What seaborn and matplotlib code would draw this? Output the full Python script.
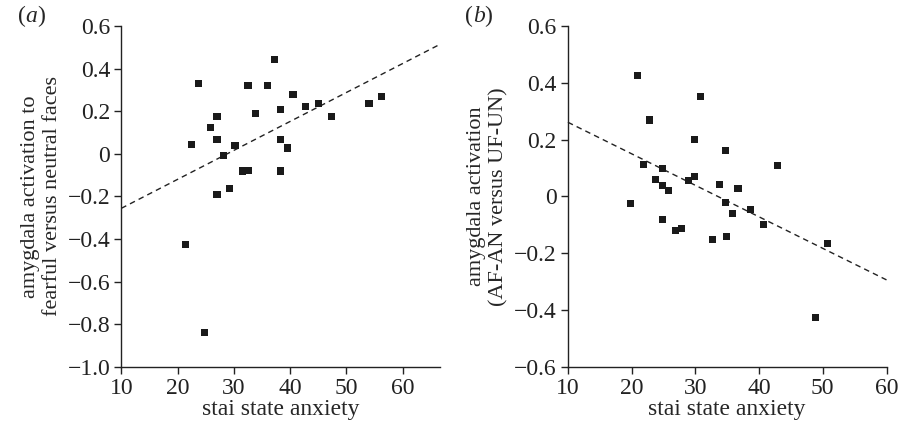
import numpy as np
import pandas as pd
import matplotlib
matplotlib.use("Agg")
import matplotlib.pyplot as plt
import seaborn as sns
from matplotlib.ticker import FuncFormatter

# panel (a): fearful vs neutral faces
anx_a = [23.7, 22.4, 27.0, 25.8, 27.0, 28.1, 30.2, 27.0, 29.2, 31.5, 32.5, 32.5, 33.8,
         35.9, 37.2, 38.2, 38.2, 39.5, 38.2, 40.5, 42.8, 45.0, 47.3, 54.0, 56.3, 21.4, 24.7]
amy_a = [0.331, 0.045, 0.177, 0.125, 0.069, -0.006, 0.041, -0.192, -0.161, -0.081, -0.077,
         0.322, 0.191, 0.322, 0.444, 0.209, 0.069, 0.027, -0.081, 0.280, 0.223, 0.238,
         0.177, 0.238, 0.270, -0.427, -0.839]
fit_a = (-0.392, 0.0136)   # intercept, slope of dashed line

# panel (b): AF-AN versus UF-UN
anx_b = [20.9, 30.8, 22.8, 29.9, 34.7, 21.9, 42.9, 24.8, 23.7, 24.8, 25.8, 28.9, 29.9, 33.8,
         36.7, 19.8, 34.7, 38.6, 35.8, 40.7, 24.8, 26.9, 27.8, 32.7, 34.9, 50.7, 48.8]
amy_b = [0.427, 0.353, 0.269, 0.199, 0.160, 0.111, 0.108, 0.097, 0.058, 0.037, 0.020, 0.055,
         0.069, 0.041, 0.027, -0.026, -0.022, -0.047, -0.059, -0.098, -0.080, -0.119, -0.112,
         -0.151, -0.140, -0.165, -0.426]
fit_b = (0.372, -0.0111)

xticks = [10, 20, 30, 40, 50, 60]
yticks_a = [-1.0, -0.8, -0.6, -0.4, -0.2, 0, 0.2, 0.4, 0.6]
yticks_b = [-0.6, -0.4, -0.2, 0, 0.2, 0.4, 0.6]

sns.set_style("ticks")
plt.rcParams['font.family'] = ['Liberation Serif', 'DejaVu Serif']

fig = plt.figure(figsize=(9, 4.26), dpi=100)
ax1 = fig.add_axes([0.1348, 0.139, 0.354, 0.800])
ax2 = fig.add_axes([0.631, 0.139, 0.354, 0.800])


def fmt(v, pos):
    if abs(v) < 1e-9:
        return "0"
    return f"{v:.1f}".replace("-", "\u2212")


def panel(ax, x, y, fit, xlim, ylim, yticks, ylabel):
    df = pd.DataFrame({"x": x, "y": y})
    sns.scatterplot(data=df, x="x", y="y", ax=ax, marker="s", s=26,
                    color="#1a1a1a", edgecolor="none", zorder=3)
    xs = np.array(xlim)
    ax.plot(xs, fit[0] + fit[1] * xs, color="#222222", lw=1.0,
            dashes=(4, 3), clip_on=False)
    ax.set_xlim(*xlim)
    ax.set_ylim(*ylim)
    ax.set_xticks(xticks)
    ax.set_yticks(yticks)
    ax.yaxis.set_major_formatter(FuncFormatter(fmt))
    ax.set_xlabel("stai state anxiety", fontsize=17, labelpad=0)
    ax.set_ylabel(ylabel, fontsize=16, labelpad=4, linespacing=1.2)
    sns.despine(ax=ax)
    ax.tick_params(direction="out", length=5, width=1, labelsize=17, pad=3,
                   colors="#222222")
    for s in ("left", "bottom"):
        ax.spines[s].set_linewidth(1.0)
        ax.spines[s].set_color("#222222")


panel(ax1, anx_a, amy_a, fit_a, (10, 66.6), (-1.0, 0.6), yticks_a,
      "amygdala activation to\nfearful versus neutral faces")
panel(ax2, anx_b, amy_b, fit_b, (10, 60), (-0.6, 0.6), yticks_b,
      "amygdala activation\n(AF-AN versus UF-UN)")

# panel letters, italic letter inside upright brackets
for x0, letter in [(0.020, "a"), (0.517, "b")]:
    fig.text(x0, 0.962, "(", fontsize=17, va="center")
    fig.text(x0 + 0.0085, 0.962, letter, fontsize=17, va="center", style="italic")
    fig.text(x0 + 0.0215, 0.962, ")", fontsize=17, va="center")

fig.savefig("out.png", dpi=100)
